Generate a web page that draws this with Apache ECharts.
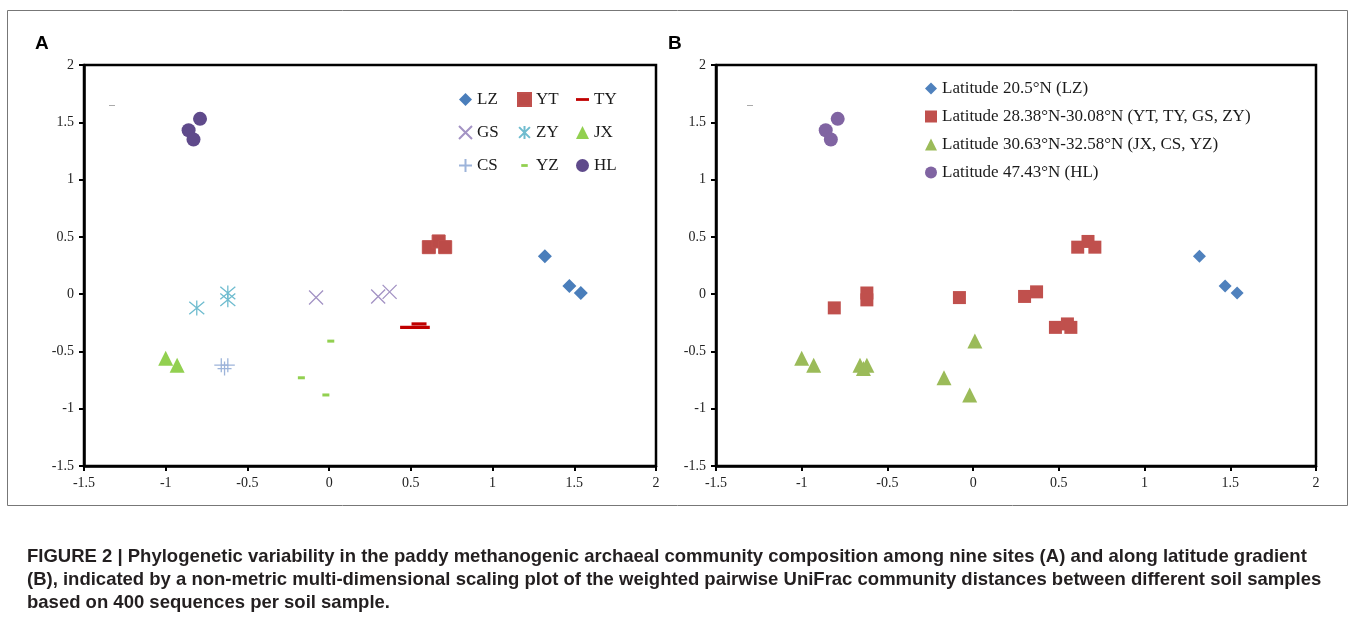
<!DOCTYPE html>
<html><head><meta charset="utf-8">
<script src="https://cdn.jsdelivr.net/npm/echarts@6/dist/echarts.min.js"></script>
<style>html,body{margin:0;padding:0;background:#fff}#c{width:1355px;height:620px}</style>
</head><body><div id="c"></div>
<script>
// ---- data (NMDS coordinates) ----
const LZ = [[1.32,0.33],[1.47,0.07],[1.54,0.01]];
const YT = [[0.61,0.41],[0.67,0.46],[0.71,0.41]];
const TY = [[0.48,-0.29],[0.55,-0.26],[0.57,-0.29]];
const GS = [[-0.08,-0.03],[0.30,-0.02],[0.37,0.02]];
const ZY = [[-0.81,-0.12],[-0.62,0.01],[-0.62,-0.05]];
const JX = [[-1.0,-0.56],[-0.93,-0.62]];
const CS = [[-0.66,-0.62],[-0.62,-0.62],[-0.64,-0.65]];
const YZ = [[0.01,-0.41],[-0.17,-0.73],[-0.02,-0.88]];
const HL = [[-0.86,1.43],[-0.83,1.35],[-0.79,1.53]];
const siteNames = ['LZ','YT','TY','GS','ZY','JX','CS','YZ','HL'];
const latNames = ['Latitude 20.5°N (LZ)','Latitude 28.38°N-30.08°N (YT, TY, GS, ZY)','Latitude 30.63°N-32.58°N (JX, CS, YZ)','Latitude 47.43°N (HL)'];
const latGroups = [['LZ'],['YT','TY','GS','ZY'],['JX','CS','YZ'],['HL']];
const axisMin = -1.5, axisMax = 2, axisStep = 0.5;
const caption = [
 'FIGURE 2 | Phylogenetic variability in the paddy methanogenic archaeal community composition among nine sites (A) and along latitude gradient',
 '(B), indicated by a non-metric multi-dimensional scaling plot of the weighted pairwise UniFrac community distances between different soil samples',
 'based on 400 sequences per soil sample.'
];
const siteData = {LZ,YT,TY,GS,ZY,JX,CS,YZ,HL};

const serif = 'Liberation Serif';
const pX = 'path://M0,0 L10,10 M10,0 L0,10';
const pStar = 'path://M0,0 L10,10 M10,0 L0,10 M5,-1 L5,11';
const pPlus = 'path://M5,0 L5,10 M0,5 L10,5';
// dashes drawn inside a square box so legend icons keep the thin shape
const pDashLong = 'path://M0,0 M14,14 M0,5.5 L14,5.5 L14,8.5 L0,8.5 Z';
const pDashShort = 'path://M0,0 M14,14 M3.5,5.5 L10.5,5.5 L10.5,8.5 L3.5,8.5 Z';

const siteStyle = {
  LZ:{symbol:'diamond',size:14,color:'#4a7ebb'},
  YT:{symbol:'rect',size:13,color:'#bc4b48',border:'#c0504d'},
  TY:{symbol:pDashLong,size:15,color:'#c00000'},
  GS:{symbol:pX,size:14,stroke:'#a393c4'},
  ZY:{symbol:pStar,size:15,stroke:'#6fbccf'},
  JX:{symbol:'triangle',size:15,color:'#92d050'},
  CS:{symbol:pPlus,size:14,stroke:'#9db4da'},
  YZ:{symbol:pDashShort,size:14,color:'#92d050'},
  HL:{symbol:'circle',size:14,color:'#5f4a8b'}
};
const latStyle = [
  {symbol:'diamond',size:13,color:'#4f81bd'},
  {symbol:'rect',size:13,color:'#c0504d'},
  {symbol:'triangle',size:15,color:'#9bbb59'},
  {symbol:'circle',size:14,color:'#8064a2'}
];

function axis(gi, isX){
  return {
    type:'value', gridIndex:gi, min:axisMin, max:axisMax, interval:axisStep,
    axisLine:{show:true,onZero:false,lineStyle:{color:'#000',width:2.5}},
    axisTick:{show:true,length:5,lineStyle:{color:'#000',width:2}},
    splitLine:{show:false},
    axisLabel:{color:'#222',fontFamily:serif,fontSize:14,margin:10}
  };
}

const series = [];
siteNames.forEach(n=>{
  const s = siteStyle[n];
  const it = s.stroke ? {color:'rgba(0,0,0,0)',borderColor:s.stroke,borderWidth:1.3,opacity:1}
                      : {color:s.color,borderColor:s.border||s.color,borderWidth:s.border?1:0,opacity:1};
  series.push({name:n,type:'scatter',xAxisIndex:0,yAxisIndex:0,data:siteData[n],
    symbol:s.symbol,symbolSize:s.size,itemStyle:it,emphasis:{disabled:true}});
});
latGroups.forEach((g,i)=>{
  const s = latStyle[i];
  const d = [];
  g.forEach(n=>siteData[n].forEach(p=>d.push(p)));
  series.push({name:latNames[i],type:'scatter',xAxisIndex:1,yAxisIndex:1,data:d,
    symbol:s.symbol,symbolSize:s.size,itemStyle:{color:s.color,opacity:1},emphasis:{disabled:true}});
});

const legTxt = {fontFamily:serif,fontSize:17,color:'#1a1a1a'};
function legCol(names,left){
  return {orient:'vertical',left:left,top:91,itemWidth:13,itemHeight:13,itemGap:16,
    textStyle:legTxt,data:names,selectedMode:false,padding:0};
}

const chart = echarts.init(document.getElementById('c'),null,{renderer:'canvas'});
chart.setOption({
  animation:false,
  backgroundColor:'#fff',
  grid:[
    {left:84,top:65,width:572,height:401,show:true,borderColor:'#000',borderWidth:2.5,backgroundColor:'transparent'},
    {left:716,top:65,width:600,height:401,show:true,borderColor:'#000',borderWidth:2.5,backgroundColor:'transparent'}
  ],
  xAxis:[axis(0,true),axis(1,true)],
  yAxis:[axis(0,false),axis(1,false)],
  legend:[
    legCol(['LZ','GS','CS'],458),
    legCol(['YT','ZY','YZ'],517),
    legCol(['TY','JX','HL'],576),
    {orient:'vertical',left:925,top:80,itemWidth:12,itemHeight:12,itemGap:11,padding:0,selectedMode:false,
     textStyle:{fontFamily:serif,fontSize:17,color:'#1a1a1a'},data:latNames}
  ],
  series:series,
  graphic:[
    {type:'rect',shape:{x:7.5,y:10.5,width:1340,height:495},style:{fill:'none',stroke:'#777',lineWidth:1},silent:true,z:-1},
    {type:'line',shape:{x1:109,y1:105.5,x2:115,y2:105.5},style:{stroke:'#aaa',lineWidth:1},silent:true},
    {type:'line',shape:{x1:747,y1:105.5,x2:753,y2:105.5},style:{stroke:'#aaa',lineWidth:1},silent:true},
    {type:'text',left:35,top:34,style:{text:'A',font:'bold 19px "Liberation Sans"',fill:'#000'}},
    {type:'text',left:668,top:34,style:{text:'B',font:'bold 19px "Liberation Sans"',fill:'#000'}},
    ...caption.map((t,i)=>({type:'text',left:27,top:547+i*23,style:{text:t,font:'bold 18.5px "Liberation Sans"',fill:'#231f20'}}))
  ]
});
</script></body></html>
